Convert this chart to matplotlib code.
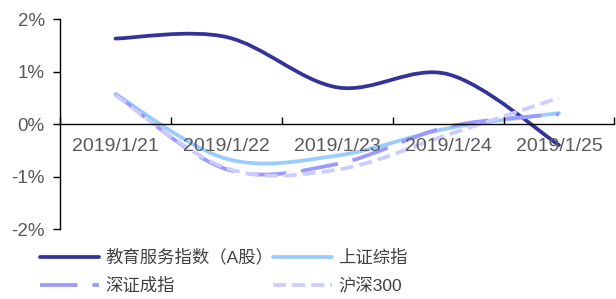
import numpy as np
import matplotlib.pyplot as plt
from matplotlib.path import Path
from matplotlib.patches import PathPatch
from matplotlib.lines import Line2D

plt.rcParams['font.family'] = ['Liberation Sans', 'Noto Sans CJK SC']

dates = ['2019/1/21', '2019/1/22', '2019/1/23', '2019/1/24', '2019/1/25']
edu = [1.63, 1.66, 0.70, 0.95, -0.40]
sh = [0.57, -0.66, -0.60, -0.08, 0.21]
sz = [0.57, -0.86, -0.76, -0.05, 0.19]
hs300 = [0.55, -0.84, -0.87, -0.20, 0.50]

names = ['教育服务指数（A股）', '上证综指', '深证成指', '沪深300']
colors = ['#333399', '#99CCFF', '#9999FF', '#CCCCFF']
styles = [None, None, (0, (10, 4)), (0, (3.5, 1.6))]


def smooth_path(x, y):
    # Excel-style smoothed line: cubic Bezier with Catmull-Rom control points
    pts = np.column_stack([x, y])
    n = len(pts)
    verts = [pts[0]]
    codes = [Path.MOVETO]
    for i in range(n - 1):
        p0 = pts[i - 1] if i > 0 else pts[i]
        p1 = pts[i]
        p2 = pts[i + 1]
        p3 = pts[i + 2] if i + 2 < n else pts[i + 1]
        c1 = p1 + (p2 - p0) / 6
        c2 = p2 - (p3 - p1) / 6
        verts += [c1, c2, p2]
        codes += [Path.CURVE4] * 3
    return Path(verts, codes)


fig = plt.figure(figsize=(6.16, 2.99), dpi=100)
ax = fig.add_axes([0.0974, 0.234, 0.9, 0.702])

x = np.arange(len(dates))
series = [edu, sh, sz, hs300]
handles = []
for vals, c, ls, name in zip(series, colors, styles, names):
    patch = PathPatch(smooth_path(x, np.array(vals)), facecolor='none', edgecolor=c,
                      lw=2.7, capstyle='round' if ls is None else 'butt')
    if ls is not None:
        patch.set_linestyle(ls)
    ax.add_patch(patch)
    handles.append(Line2D([], [], color=c, lw=2.7, linestyle=ls if ls else '-',
                          solid_capstyle='round', label=name))

ax.set_xlim(-0.5, 4.5)
ax.set_ylim(-2, 2)
ax.set_yticks([-2, -1, 0, 1, 2])
ax.set_yticklabels(['-2%', '-1%', '0%', '1%', '2%'])
ax.set_xticks(np.arange(-0.5, 5, 1))
ax.set_xticklabels([])
ax.set_xticks(x, minor=True)
ax.set_xticklabels(dates, minor=True)
ax.tick_params(axis='x', which='major', direction='in', length=5, width=1)
ax.tick_params(axis='x', which='minor', length=0, pad=10, labelsize=14, labelcolor='#595959')
ax.tick_params(axis='y', direction='out', length=5, width=1, pad=6, labelsize=13.5, labelcolor='#595959')
ax.spines['top'].set_visible(False)
ax.spines['right'].set_visible(False)
ax.spines['bottom'].set_position(('data', 0))
for s in ['left', 'bottom']:
    ax.spines[s].set_linewidth(1)

# legend fills column-wise: order so rows read edu/sh then sz/hs300
order = [0, 2, 1, 3]
leg = fig.legend(handles=[handles[i] for i in order], ncol=2, loc='upper left',
                 bbox_to_anchor=(0.065, 0.167), borderpad=0, borderaxespad=0,
                 frameon=False, fontsize=12.5, handlelength=3.4, columnspacing=0.0,
                 labelspacing=0.68, handletextpad=0.35)
for t in leg.get_texts():
    t.set_color('#404040')

fig.savefig('out.png', dpi=100)
